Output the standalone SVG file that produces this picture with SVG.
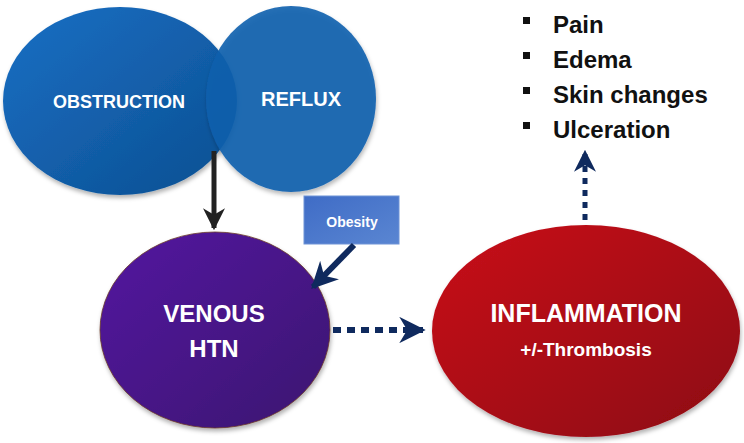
<svg xmlns="http://www.w3.org/2000/svg" width="744" height="443" viewBox="0 0 744 443">
<defs>
<linearGradient id="gBlue" x1="0" y1="0" x2="1" y2="1">
<stop offset="0" stop-color="#1a6fc4"/><stop offset="1" stop-color="#0b4f91"/>
</linearGradient>
<linearGradient id="gPurple" x1="0" y1="0" x2="1" y2="1">
<stop offset="0" stop-color="#5419a0"/><stop offset="1" stop-color="#3b1270"/>
</linearGradient>
<linearGradient id="gRed" x1="0" y1="0" x2="1" y2="1">
<stop offset="0" stop-color="#c90d1b"/><stop offset="1" stop-color="#8c0610"/>
</linearGradient>
<linearGradient id="gBox" x1="0" y1="0" x2="1" y2="1">
<stop offset="0" stop-color="#3f6cc6"/><stop offset="1" stop-color="#5a86d2"/>
</linearGradient>
<filter id="sh" x="-10%" y="-10%" width="120%" height="125%">
<feDropShadow dx="1" dy="3" stdDeviation="2" flood-color="#000" flood-opacity="0.3"/>
</filter>
<marker id="mNavy" viewBox="0 0 10 10" refX="9" refY="5" markerWidth="4.4" markerHeight="4.4" orient="auto" markerUnits="strokeWidth">
<path d="M0,0 L10,5 L0,10 L3,5 Z" fill="#0f2a5e"/>
</marker>
<marker id="mBlack" viewBox="0 0 10 10" refX="9" refY="5" markerWidth="4.4" markerHeight="4.4" orient="auto" markerUnits="strokeWidth">
<path d="M0,0 L10,5 L0,10 L3,5 Z" fill="#222"/>
</marker>
</defs>
<style>
.lbl{font-family:"Liberation Sans",Arial,sans-serif;font-weight:bold;fill:#fff;text-anchor:middle}
.bul{font-family:"Liberation Sans",Arial,sans-serif;font-weight:bold;font-size:24px;fill:#111}
.navy{stroke:#0f2a5e;fill:none}
</style>
<rect width="744" height="443" fill="#fff"/>

<g id="obstruction">
<ellipse cx="120" cy="101" rx="117" ry="94" fill="url(#gBlue)" filter="url(#sh)"/>
<text class="lbl" x="119" y="108" font-size="18">OBSTRUCTION</text>
</g>
<g id="reflux">
<ellipse cx="291" cy="99" rx="85" ry="93" fill="#0f5fae" fill-opacity="0.9" filter="url(#sh)"/>
<text class="lbl" x="301" y="106" font-size="20">REFLUX</text>
</g>
<g id="venous-htn">
<ellipse cx="215" cy="330" rx="115" ry="98" fill="url(#gPurple)" stroke="#6b3a2a" stroke-width="0.8" filter="url(#sh)"/>
<text class="lbl" x="214" y="322" font-size="24">VENOUS</text>
<text class="lbl" x="214" y="357" font-size="24">HTN</text>
</g>
<g id="obesity">
<rect x="304" y="196" width="95" height="48" fill="url(#gBox)" stroke="#6e93d6" stroke-width="1"/>
<text class="lbl" x="352" y="227" font-size="14">Obesity</text>
</g>
<g id="inflammation">
<ellipse cx="586" cy="331" rx="154" ry="106" fill="url(#gRed)" filter="url(#sh)"/>
<text class="lbl" x="586" y="322" font-size="25">INFLAMMATION</text>
<text class="lbl" x="586" y="356" font-size="19">+/-Thrombosis</text>
</g>
<g id="symptoms">
<rect x="523" y="17" width="7" height="7" fill="#111"/>
<rect x="523" y="52" width="7" height="7" fill="#111"/>
<rect x="523" y="87" width="7" height="7" fill="#111"/>
<rect x="523" y="122" width="7" height="7" fill="#111"/>
<text class="bul" x="553" y="33">Pain</text>
<text class="bul" x="553" y="68">Edema</text>
<text class="bul" x="553" y="103">Skin changes</text>
<text class="bul" x="553" y="138">Ulceration</text>
</g>
<g id="connectors">
<line x1="214" y1="151" x2="214" y2="228" stroke="#222" stroke-width="5" marker-end="url(#mBlack)"/>
<line class="navy" x1="354" y1="245" x2="313" y2="287" stroke-width="6" marker-end="url(#mNavy)"/>
<line class="navy" x1="333" y1="330" x2="423" y2="330" stroke-width="6" stroke-dasharray="8,6" marker-end="url(#mNavy)"/>
<line class="navy" x1="585" y1="220" x2="585" y2="152" stroke-width="5" stroke-dasharray="6,6" marker-end="url(#mNavy)"/>
</g>
</svg>
